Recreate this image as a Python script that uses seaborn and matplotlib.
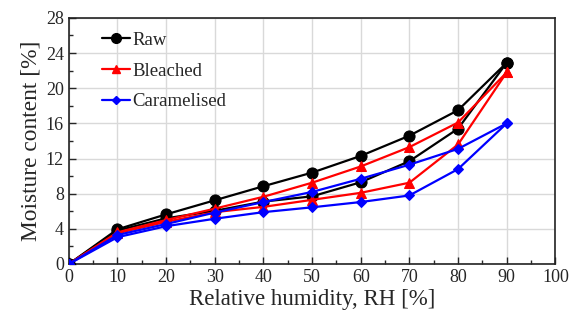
import numpy as np
import pandas as pd
import matplotlib.pyplot as plt
import seaborn as sns
from matplotlib.lines import Line2D
from matplotlib.ticker import MultipleLocator

rh = [0, 10, 20, 30, 40, 50, 60, 70, 80, 90]

raw_ads = [0, 3.8, 5.2, 6.05, 7.1, 7.7, 9.3, 11.7, 15.4, 22.9]
raw_des = [0, 3.95, 5.65, 7.25, 8.85, 10.4, 12.3, 14.6, 17.5, 22.9]
bleached_ads = [0, 3.5, 4.8, 5.9, 6.5, 7.3, 8.1, 9.25, 13.6, 21.8]
bleached_des = [0, 3.6, 5.0, 6.3, 7.65, 9.25, 11.1, 13.3, 16.1, 21.8]
caram_ads = [0, 3.05, 4.3, 5.15, 5.9, 6.45, 7.05, 7.8, 10.8, 16.0]
caram_des = [0, 3.3, 4.55, 5.85, 7.05, 8.2, 9.7, 11.3, 13.1, 16.0]

samples = ["Raw", "Bleached", "Caramelised"]
colors = ["black", "red", "blue"]
markers = ["o", "^", "D"]
msizes = [8, 7, 5]

rows = []
for name, ads, des in zip(samples, [raw_ads, bleached_ads, caram_ads],
                          [raw_des, bleached_des, caram_des]):
    for x, a, d in zip(rh, ads, des):
        rows.append((name, "ads", x, a))
        rows.append((name, "des", x, d))
df = pd.DataFrame(rows, columns=["sample", "branch", "rh", "mc"])

sns.set_style("ticks")
plt.rcParams['font.family'] = ['Liberation Serif', 'DejaVu Serif']
fig = plt.figure(figsize=(5.69, 3.2), dpi=100)
ax = fig.add_axes([0.121, 0.175, 0.855, 0.769])

for name, c, m, ms in zip(samples, colors, markers, msizes):
    for br in ["ads", "des"]:
        sub = df[(df["sample"] == name) & (df["branch"] == br)]
        sns.lineplot(data=sub, x="rh", y="mc", ax=ax, color=c, marker=m,
                     markersize=ms, markeredgecolor=c, linewidth=1.6,
                     sort=False, estimator=None, zorder=3)

ax.set_xlim(0, 100)
ax.set_ylim(0, 28)
ax.xaxis.set_major_locator(MultipleLocator(10))
ax.xaxis.set_minor_locator(MultipleLocator(5))
ax.yaxis.set_major_locator(MultipleLocator(4))
ax.yaxis.set_minor_locator(MultipleLocator(2))
ax.tick_params(which="both", direction="in", labelsize=13, width=1)
ax.tick_params(which="major", length=5)
ax.tick_params(which="minor", length=3)
ax.grid(True, which="major", color="#d9d9d9", linewidth=1, zorder=0)
ax.set_axisbelow(True)
for s in ax.spines.values():
    s.set_linewidth(1.2)
    s.set_color("#222222")

ax.set_xlabel("Relative humidity, RH [%]", fontsize=16.5, labelpad=2)
ax.set_ylabel("Moisture content [%]", fontsize=16.8, labelpad=3)

handles = [Line2D([0], [0], color=c, marker=m, markersize=ms, linewidth=1.6)
           for c, m, ms in zip(colors, markers, [7, 6, 4.5])]
ax.legend(handles, samples, loc="upper left", frameon=False, fontsize=13.5,
          handlelength=1.5, handletextpad=0.12, labelspacing=0.72,
          bbox_to_anchor=(0.033, 1.012))

fig.savefig("out.png", dpi=100)
